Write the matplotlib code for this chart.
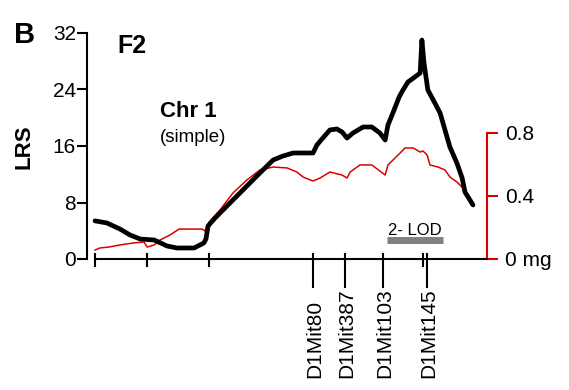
import matplotlib
matplotlib.use('agg')
import matplotlib.pyplot as plt

plt.rcParams['font.family'] = ['Liberation Sans', 'DejaVu Sans']

# LRS trace (black), position in cM
lrs_cm = [0, 3.4, 7.1, 10.0, 12.9, 16.9, 20.6, 23.4, 28.3, 31.1, 31.7, 32.3, 34.3, 35.7,
          39.4, 43.4, 47.1, 50.9, 53.7, 56.6, 62.3, 63.4, 65.1, 67.1, 69.1, 70.6, 72.0,
          73.7, 76.6, 79.1, 81.4, 82.9, 83.7, 85.1, 86.9, 88.0, 89.4, 91.4, 92.9, 93.4,
          94.0, 95.1, 97.1, 98.6, 100.0, 101.4, 103.4, 104.9, 105.7, 108.0]
lrs = [5.4, 5.1, 4.25, 3.4, 2.83, 2.69, 1.84, 1.56, 1.56, 2.27, 2.83, 4.67, 5.81, 6.51,
       8.35, 10.34, 12.18, 14.02, 14.58, 15.01, 15.01, 16.14, 17.13, 18.27, 18.41, 17.98,
       17.13, 17.84, 18.69, 18.69, 17.84, 16.85, 18.97, 20.67, 22.94, 23.93, 25.06, 25.77,
       26.34, 31.0, 27.75, 23.93, 22.09, 20.67, 18.27, 15.86, 13.59, 11.47, 9.49, 7.65]

# effect size trace (red, mg)
mg_cm = [0, 1.4, 4.0, 7.1, 11.1, 14.0, 14.9, 16.9, 18.6, 21.4, 24.0, 30.6, 31.4, 32.6,
         34.9, 35.7, 39.4, 43.4, 47.1, 50.9, 54.9, 57.7, 59.4, 62.3, 64.3, 67.1, 70.6,
         72.0, 72.9, 75.7, 79.1, 82.9, 83.7, 86.9, 88.6, 90.9, 92.9, 93.7, 94.9, 95.7,
         98.0, 100.0, 101.4, 103.4, 105.1, 106.0]
mg = [0.057, 0.070, 0.076, 0.089, 0.102, 0.108, 0.076, 0.089, 0.121, 0.152, 0.190, 0.190,
      0.178, 0.235, 0.292, 0.311, 0.419, 0.502, 0.565, 0.584, 0.578, 0.552, 0.521, 0.495,
      0.514, 0.552, 0.533, 0.514, 0.552, 0.597, 0.597, 0.533, 0.597, 0.667, 0.705, 0.705,
      0.679, 0.686, 0.660, 0.597, 0.584, 0.565, 0.521, 0.489, 0.451, 0.406]

minor_cm = [0, 14.9, 32.6, 93.7]
markers = ['D1Mit80', 'D1Mit387', 'D1Mit103', 'D1Mit145']
marker_cm = [62.3, 71.4, 82.3, 94.9]
lod_interval = [83.4, 99.4]

red = '#dd0000'
fig = plt.figure(figsize=(5.69, 3.90), dpi=100)
ax = fig.add_axes([87/569, 1-259/390, 400/569, 226/390])
ax2 = ax.twinx()
ax.set_zorder(ax2.get_zorder() + 1)
ax.patch.set_visible(False)

ax.plot(lrs_cm, lrs, color='black', lw=3.4, solid_joinstyle='round', solid_capstyle='round')
ax2.plot(mg_cm, mg, color=red, lw=1.1)

ax.set_xlim(-2.29, 112.0)
ax.set_ylim(0, 32)
ax2.set_ylim(0, 226/157.5)

for s in ['top', 'right']:
    ax.spines[s].set_visible(False)
for s in ['top', 'left', 'bottom']:
    ax2.spines[s].set_visible(False)
ax.spines['left'].set_linewidth(1.5)
ax.spines['bottom'].set_linewidth(1.5)
ax.spines['bottom'].set_bounds(0, 112.0)
ax2.spines['right'].set_color(red)
ax2.spines['right'].set_linewidth(1.5)
ax2.spines['right'].set_bounds(0, 0.8)

ax.set_yticks([0, 8, 16, 24, 32])
ax.tick_params(axis='y', labelsize=15, length=7, width=1.5, pad=1)
ax.set_xticks([])
ax2.set_yticks([0, 0.4, 0.8])
ax2.set_yticklabels(['0 mg', '0.4', '0.8'])
ax2.tick_params(axis='y', labelsize=15, length=8, width=1.5, color=red, pad=5)

# marker ticks below axis
tr = ax.get_xaxis_transform()
for x in minor_cm:
    ax.plot([x, x], [5/226, -7/226], color='black', lw=1.5, transform=tr, clip_on=False)
for x, name in zip(marker_cm, markers):
    ax.plot([x, x], [5/226, -28/226], color='black', lw=1.5, transform=tr, clip_on=False)
    ax.text(x + 0.4, -119/226, name, rotation=90, ha='center', va='bottom',
            fontsize=15, transform=tr)

# 2-LOD interval
ax.plot(lod_interval, [2.62, 2.62], color='#808080', lw=5, solid_capstyle='butt')
ax.text(sum(lod_interval)/2, 3.4, '2- LOD', ha='center', va='baseline', fontsize=12)

ax.text(6.3, 29.2, 'F2', fontsize=18, fontweight='bold', va='baseline')
ax.text(18.6, 20.1, 'Chr 1', fontsize=16, fontweight='bold', va='baseline')
ax.text(18.6, 16.6, '(simple)', fontsize=13.5, va='baseline')

fig.text(14/569, 1-43/390, 'B', fontsize=21, fontweight='bold', va='baseline')
fig.text(24/569, 1-147/390, 'LRS', fontsize=16, fontweight='bold', rotation=90,
         ha='center', va='center')

fig.savefig('out.png', dpi=100)
